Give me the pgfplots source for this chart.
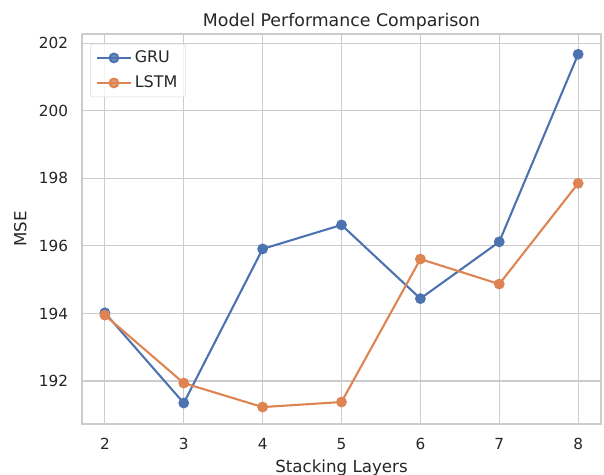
\documentclass[border=0pt]{standalone}
\usepackage{pgfplots}
\pgfplotsset{compat=1.18}
\usepackage{fontspec}
\setmainfont{DejaVu Sans}
\definecolor{sbblue}{HTML}{4C72B0}
\definecolor{sborange}{HTML}{DD8452}
\definecolor{gridc}{HTML}{CCCCCC}
\definecolor{txt}{HTML}{262626}
\begin{document}
\begin{tikzpicture}[x=1pt,y=1pt]
\begin{axis}[
  scale only axis,
  width=373.7pt, height=280.8pt,
  xmin=1.71, xmax=8.29, ymin=190.73, ymax=202.27,
  xtick={2,3,4,5,6,7,8},
  ytick={192,194,196,198,200,202},
  /pgf/number format/assume math mode=true,
  tick label style={font=\fontsize{11}{13}\selectfont, text=txt},
  xticklabel style={yshift=-7pt},
  yticklabel style={xshift=-6.5pt},
  label style={font=\fontsize{12}{14}\selectfont, text=txt},
  ylabel style={yshift=2pt},
  title style={font=\fontsize{12.5}{14}\selectfont, text=txt, yshift=-6.5pt},
  title={Model Performance Comparison},
  xlabel={Stacking Layers},
  ylabel={MSE},
  grid=major,
  major grid style={gridc, line width=0.85pt},
  axis line style={gridc, line width=1.1pt},
  tick style={draw=none},
  legend style={font=\fontsize{11.5}{13}\selectfont, text=txt, draw=gridc!70, rounded corners=2pt, fill=white, fill opacity=0.8, text opacity=1, at={(0.0155,0.975)}, anchor=north west, row sep=4pt, inner xsep=4pt, inner ysep=3pt},
  legend cell align=left,
  legend image code/.code={\draw[mark repeat=2,mark phase=2] plot coordinates {(0pt,0pt) (12.25pt,0pt) (24.5pt,0pt)};},
  every axis plot/.append style={line width=1.5pt, mark=*, mark size=3.1pt, mark options={solid, line width=1pt}},
]
\addplot[sbblue, mark options={fill=sbblue, draw=sbblue}] coordinates {
(2,194.02) (3,191.35) (4,195.91) (5,196.62) (6,194.44) (7,196.12) (8,201.67)};
\addlegendentry{GRU}
\addplot[sborange, mark options={fill=sborange, draw=sborange}] coordinates {
(2,193.95) (3,191.94) (4,191.23) (5,191.38) (6,195.61) (7,194.87) (8,197.85)};
\addlegendentry{LSTM}
\end{axis}
\pgfresetboundingbox
\useasboundingbox (current axis.south west) ++(-59.04pt,-36.72pt) rectangle ([xshift=2.16pt,yshift=24.48pt]current axis.north east);
\end{tikzpicture}
\end{document}
